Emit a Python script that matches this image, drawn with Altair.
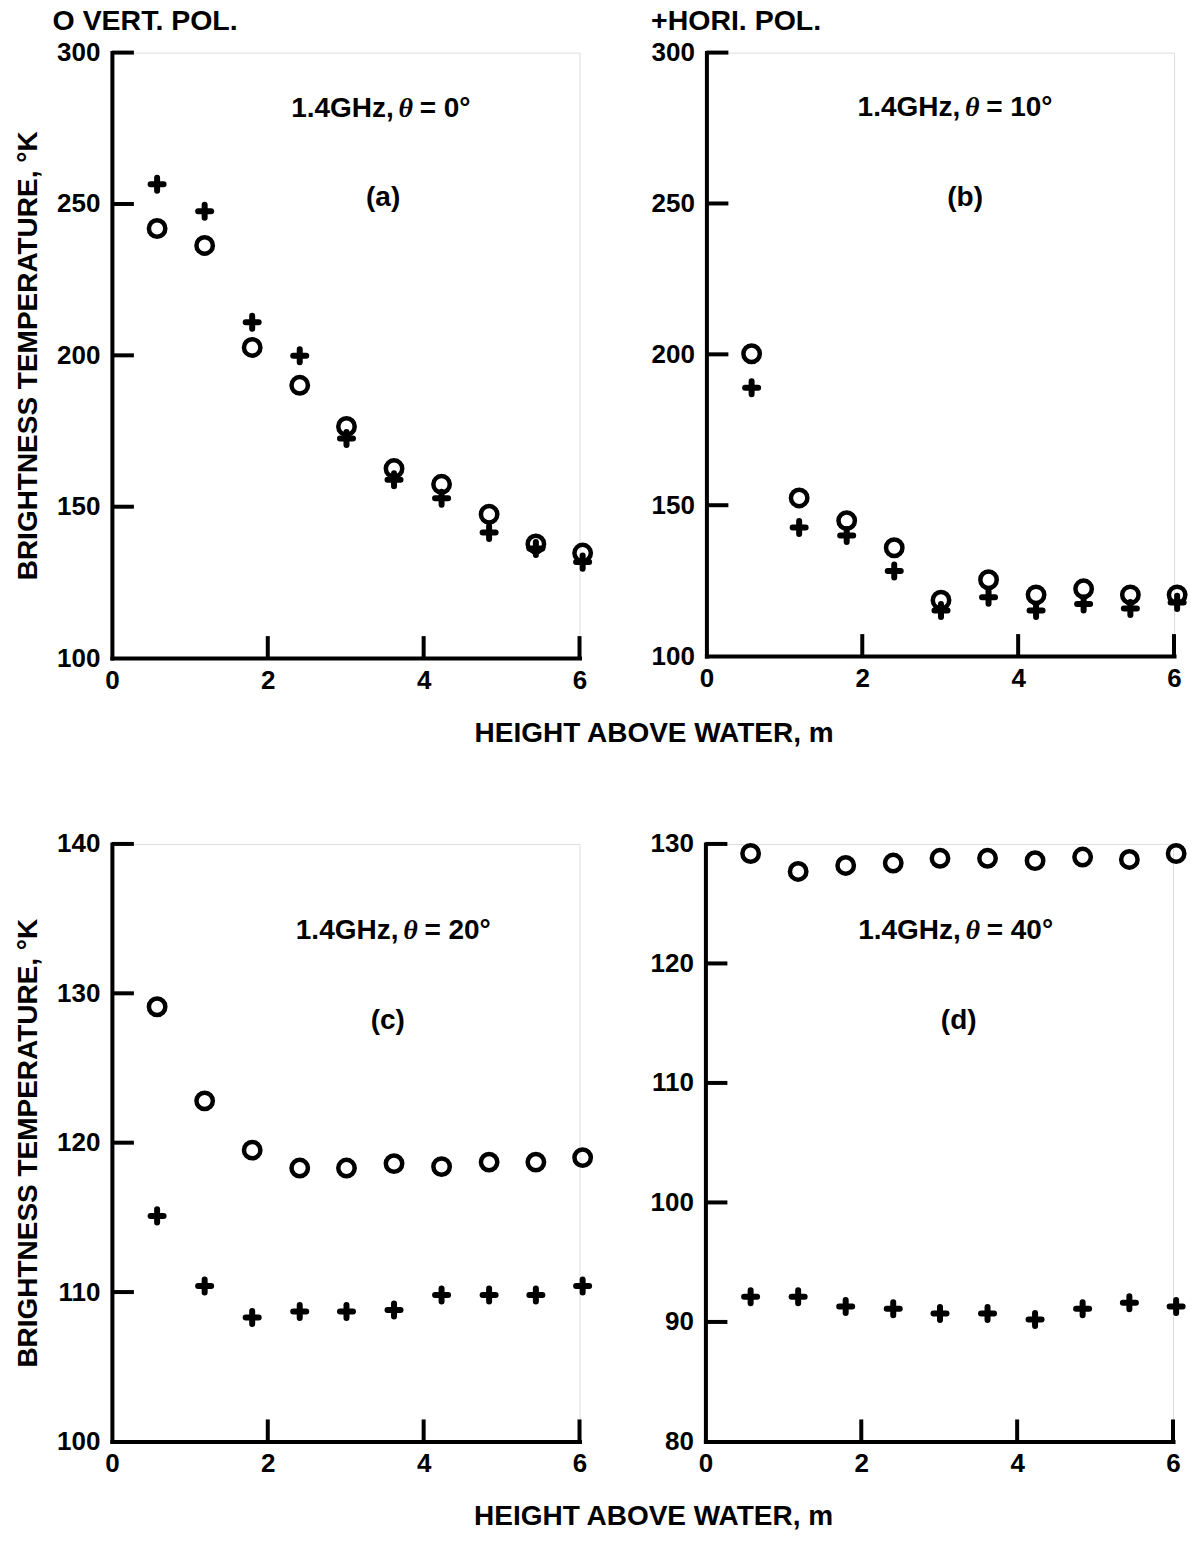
import altair as alt
import pandas as pd

# ---- data ----
HEIGHTS = [0.58, 1.19, 1.80, 2.41, 3.01, 3.62, 4.23, 4.84, 5.44, 6.04]

A_VERT = [241.9, 236.3, 202.6, 190.1, 176.5, 162.6, 157.4, 147.5, 137.7, 134.7]
A_HORI = [256.5, 247.6, 210.9, 199.9, 172.5, 158.9, 152.8, 141.5, 136.2, 131.7]
B_VERT = [200.2, 152.4, 144.9, 135.9, 118.5, 125.3, 120.3, 122.3, 120.3, 120.3]
B_HORI = [188.9, 142.6, 140.0, 128.2, 115.1, 119.5, 115.1, 117.3, 115.8, 117.8]
C_VERT = [129.1, 122.8, 119.5, 118.3, 118.3, 118.6, 118.4, 118.7, 118.7, 119.0]
C_HORI = [115.1, 110.4, 108.3, 108.7, 108.7, 108.8, 109.8, 109.8, 109.8, 110.4]
D_VERT = [129.2, 127.7, 128.2, 128.4, 128.8, 128.8, 128.6, 128.9, 128.7, 129.2]
D_HORI = [92.1, 92.1, 91.3, 91.1, 90.7, 90.7, 90.2, 91.1, 91.6, 91.3]

X_TICKS = [0, 2, 4, 6]
Y_TICKS_AB = [100, 150, 200, 250, 300]
Y_TICKS_C = [100, 110, 120, 130, 140]
Y_TICKS_D = [80, 90, 100, 110, 120, 130]

ANGLE_PREFIX = "1.4GHz,"
THETA = "θ"
ANGLE_SUFFIX = ["= 0°", "= 10°", "= 20°", "= 40°"]
PANEL_TAGS = ["(a)", "(b)", "(c)", "(d)"]
Y_TITLE = "BRIGHTNESS TEMPERATURE, °K"
X_TITLE = "HEIGHT ABOVE WATER, m"
LEGEND_VERT = "O VERT. POL."
LEGEND_HORI = "+HORI. POL."

FONT = "Liberation Sans"
FS = 26
TFS = 28
W = 468
LW = 4
TICK_LEN = 22
PLUS_PATH = "M-1,0L1,0M0,-1L0,1"


def panel(vert, hori, yticks, height, ytitle, suffix, tag,
          theta_x, angle_y, tag_xy, title=None):
    ymin, ymax = yticks[0], yticks[-1]
    df = pd.DataFrame({"h": HEIGHTS, "v": vert, "p": hori})
    xscale = alt.Scale(domain=[0, 6], nice=False, zero=False)
    yscale = alt.Scale(domain=[ymin, ymax], nice=False, zero=False)
    xaxis = alt.Axis(values=X_TICKS, ticks=False, grid=False, domainColor="black",
                     domainWidth=LW, domainCap="square", labelFont=FONT,
                     labelFontSize=FS, labelFontWeight="bold", labelColor="black",
                     labelPadding=9, labelFlush=False, labelOverlap=False,
                     title=None, format="d")
    yaxis = alt.Axis(values=yticks, ticks=False, grid=False, domainColor="black",
                     domainWidth=LW, domainCap="square", labelFont=FONT,
                     labelFontSize=FS, labelFontWeight="bold", labelColor="black",
                     labelPadding=12, labelFlush=False, labelOverlap=False,
                     title=ytitle if ytitle else None, titleFont=FONT,
                     titleFontSize=28, titleFontWeight="bold", titleColor="black",
                     titlePadding=14, format="d")

    base = alt.Chart(df)
    circles = base.mark_point(shape="circle", filled=False, color="black",
                              strokeWidth=4.5, size=270, opacity=1).encode(
        x=alt.X("h:Q", scale=xscale, axis=xaxis),
        y=alt.Y("v:Q", scale=yscale, axis=yaxis),
    )
    pluses = base.mark_point(shape=PLUS_PATH, filled=False, color="black",
                             strokeWidth=6, strokeCap="round", size=170,
                             opacity=1).encode(
        x=alt.X("h:Q", scale=xscale),
        y=alt.Y("p:Q", scale=yscale),
    )
    yt = alt.Chart(pd.DataFrame({"t": yticks[1:]})).mark_rule(
        color="black", strokeWidth=LW).encode(
        y=alt.Y("t:Q", scale=yscale), x=alt.value(0), x2=alt.value(TICK_LEN))
    xt = alt.Chart(pd.DataFrame({"t": X_TICKS[1:]})).mark_rule(
        color="black", strokeWidth=LW).encode(
        x=alt.X("t:Q", scale=xscale), y=alt.value(height),
        y2=alt.value(height - TICK_LEN))
    txt = alt.Chart(pd.DataFrame({"a": [ANGLE_PREFIX], "th": [THETA],
                                  "s": [suffix], "g": [tag]}))
    common = dict(font=FONT, fontSize=TFS, fontWeight="bold", color="black",
                  baseline="middle")
    t_pre = txt.mark_text(align="right", **common).encode(
        x=alt.value(theta_x - 12), y=alt.value(angle_y), text="a:N")
    t_th = txt.mark_text(align="center", font="Liberation Serif", fontSize=TFS,
                         fontWeight="bold", fontStyle="italic", color="black",
                         baseline="middle").encode(
        x=alt.value(theta_x), y=alt.value(angle_y), text="th:N")
    t_suf = txt.mark_text(align="left", **common).encode(
        x=alt.value(theta_x + 14), y=alt.value(angle_y), text="s:N")
    t_tag = txt.mark_text(align="center", **common).encode(
        x=alt.value(tag_xy[0]), y=alt.value(tag_xy[1]), text="g:N")
    layer = alt.layer(circles, pluses, yt, xt, t_pre, t_th, t_suf, t_tag).properties(
        width=W, height=height)
    if title is not None:
        layer = layer.properties(title=title)
    return layer


U = W / 6.0
title_a = alt.TitleParams(LEGEND_VERT, anchor="start", frame="bounds", font=FONT,
                          fontSize=28.5, fontWeight="bold", color="black",
                          offset=4, dx=38)
title_b = alt.TitleParams(LEGEND_HORI, anchor="start", frame="bounds", font=FONT,
                          fontSize=28.5, fontWeight="bold", color="black",
                          offset=4)

pa = panel(A_VERT, A_HORI, Y_TICKS_AB, 606, Y_TITLE, ANGLE_SUFFIX[0], PANEL_TAGS[0],
           3.77 * U, 56, (3.48 * U, 146), title_a)
pb = panel(B_VERT, B_HORI, Y_TICKS_AB, 604, None, ANGLE_SUFFIX[1], PANEL_TAGS[1],
           3.41 * U, 55, (3.32 * U, 146), title_b)
pc = panel(C_VERT, C_HORI, Y_TICKS_C, 598, Y_TITLE, ANGLE_SUFFIX[2], PANEL_TAGS[2],
           3.83 * U, 87, (3.54 * U, 177))
pd_ = panel(D_VERT, D_HORI, Y_TICKS_D, 598, None, ANGLE_SUFFIX[3], PANEL_TAGS[3],
            3.43 * U, 87, (3.25 * U, 177))


def xtitle():
    return alt.TitleParams(X_TITLE, orient="bottom", anchor="middle", font=FONT,
                           fontSize=28, fontWeight="bold", color="black",
                           offset=26, dx=49)


top = alt.hconcat(pa, pb, spacing=48).properties(title=xtitle())
bottom = alt.hconcat(pc, pd_, spacing=47).properties(title=xtitle())

chart = alt.vconcat(top, bottom, spacing=82).properties(
    padding={"left": 14, "top": 6, "right": 0, "bottom": 2}
).configure_view(stroke=None).configure(background="white")

chart.save("out.html", embed_options={"renderer": "svg", "actions": False})
